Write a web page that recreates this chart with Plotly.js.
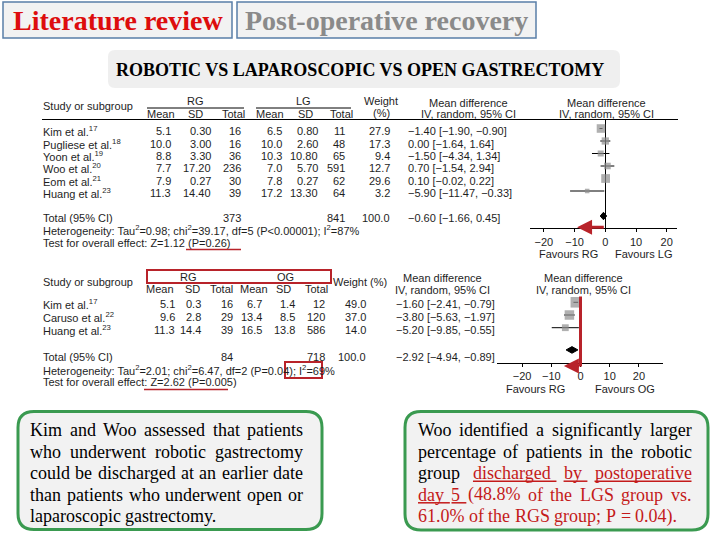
<!DOCTYPE html>
<html><head><meta charset="utf-8">
<script src="https://cdn.plot.ly/plotly-3.0.1.min.js"></script>
<style>html,body{margin:0;padding:0;background:#fff}#chart{width:720px;height:540px}</style>
</head><body><div id="chart"></div>
<script>
// ================= DATA =================
// Forest plot 1: RG vs LG (length of stay)
const studies1 = ['Kim et al.', 'Pugliese et al.', 'Yoon et al.', 'Woo et al.', 'Eom et al.', 'Huang et al.'];
const refs1    = ['17', '18', '19', '20', '21', '23'];
const rgMean1  = [5.1, 10.0, 8.8, 7.7, 7.9, 11.3];
const rgSD1    = [0.30, 3.00, 3.30, 17.20, 0.27, 14.40];
const rgN1     = [16, 16, 36, 236, 30, 39];
const lgMean1  = [6.5, 10.0, 10.3, 7.0, 7.8, 17.2];
const lgSD1    = [0.80, 2.60, 10.80, 5.70, 0.27, 13.30];
const lgN1     = [11, 48, 65, 591, 62, 64];
const weight1  = [27.9, 17.3, 9.4, 12.7, 29.6, 3.2];
const md1      = [-1.40, 0.00, -1.50, 0.70, 0.10, -5.90];
const lo1      = [-1.90, -1.64, -4.34, -1.54, -0.02, -11.47];
const hi1      = [-0.90, 1.64, 1.34, 2.94, 0.22, -0.33];
const totalN1  = [373, 841];
const totalW1  = 100.0;
const totalCI1 = [-0.60, -1.66, 0.45];
const het1  = 'Heterogeneity: Tau<sup>2</sup>=0.98; chi<sup>2</sup>=39.17, df=5 (P&lt;0.00001); I<sup>2</sup>=87%';
const test1 = 'Test for overall effect: Z=1.12 (P=0.26)';
const groups1 = ['RG', 'LG'];
const favours1 = ['Favours RG', 'Favours LG'];

// Forest plot 2: RG vs OG
const studies2 = ['Kim et al.', 'Caruso et al.', 'Huang et al.'];
const refs2    = ['17', '22', '23'];
const rgMean2  = [5.1, 9.6, 11.3];
const rgSD2    = [0.3, 2.8, 14.4];
const rgN2     = [16, 29, 39];
const ogMean2  = [6.7, 13.4, 16.5];
const ogSD2    = [1.4, 8.5, 13.8];
const ogN2     = [12, 120, 586];
const weight2  = [49.0, 37.0, 14.0];
const md2      = [-1.60, -3.80, -5.20];
const lo2      = [-2.41, -5.63, -9.85];
const hi2      = [-0.79, -1.97, -0.55];
const totalN2  = [84, 718];
const totalW2  = 100.0;
const totalCI2 = [-2.92, -4.94, -0.89];
const het2  = 'Heterogeneity: Tau<sup>2</sup>=2.01; chi<sup>2</sup>=6.47, df=2 (P=0.04); I<sup>2</sup>=69%';
const test2 = 'Test for overall effect: Z=2.62 (P=0.005)';
const groups2 = ['RG', 'OG'];
const favours2 = ['Favours RG', 'Favours OG'];

const tickVals = [-20, -10, 0, 10, 20];
const subHeads = ['Mean', 'SD', 'Total'];

// Texts
const tabTitles = ['Literature review', 'Post-operative recovery'];
const subtitle = 'ROBOTIC VS LAPAROSCOPIC VS OPEN GASTRECTOMY';
const leftLines = [
  [['Kim and Woo assessed that patients', 'k']],
  [['who underwent robotic gastrectomy', 'k']],
  [['could be discharged at an earlier date', 'k']],
  [['than patients who underwent open or', 'k']],
  [['laparoscopic gastrectomy.', 'k']]
];
const rightLines = [
  [['Woo identified a significantly larger', 'k']],
  [['percentage of patients in the robotic', 'k']],
  [['group', 'k'], ['discharged by postoperative', 'ru']],
  [['day 5', 'ru'], ['(48.8% of the LGS group vs.', 'r']],
  [['61.0% of the RGS group; P = 0.04).', 'r']]
];

// ================= STYLE / LAYOUT HELPERS =================
const SANS = 'Liberation Sans, Arial, Helvetica, sans-serif';
const SERIF = 'Liberation Serif, Times New Roman, serif';
const INK = '#1e1e1e';
const RED = '#b8232a';
const TXTRED = '#c41a1a';
const W = 720, H = 540;
const px = x => x / W, py = y => 1 - y / H;

const annotations = [];
const shapes = [];

function note(x, y, text, o) {
  o = o || {};
  annotations.push({
    xref: 'paper', yref: 'paper', x: px(x), y: py(y), text: text, showarrow: false,
    xanchor: o.xa || 'left', yanchor: o.ya || 'middle', borderpad: 0, borderwidth: 0,
    font: {family: o.family || SANS, size: o.size || 11, color: o.color || INK}
  });
}
function line(x0, y0, x1, y1, color, width) {
  shapes.push({type: 'line', xref: 'paper', yref: 'paper', x0: px(x0), y0: py(y0), x1: px(x1), y1: py(y1),
    line: {color: color, width: width}});
}
function rect(x0, y0, x1, y1, lc, lw, fill) {
  shapes.push({type: 'rect', xref: 'paper', yref: 'paper', x0: px(x0), y0: py(y0), x1: px(x1), y1: py(y1),
    line: {color: lc, width: lw}, fillcolor: fill || 'rgba(0,0,0,0)', layer: 'below'});
}
function rrect(x0, y0, x1, y1, r, lc, lw, fill) {
  const P = (x, y) => px(x) + ',' + py(y);
  const d = 'M' + P(x0 + r, y0) + ' L' + P(x1 - r, y0) + ' Q' + P(x1, y0) + ' ' + P(x1, y0 + r) +
    ' L' + P(x1, y1 - r) + ' Q' + P(x1, y1) + ' ' + P(x1 - r, y1) +
    ' L' + P(x0 + r, y1) + ' Q' + P(x0, y1) + ' ' + P(x0, y1 - r) +
    ' L' + P(x0, y0 + r) + ' Q' + P(x0, y0) + ' ' + P(x0 + r, y0) + ' Z';
  shapes.push({type: 'path', xref: 'paper', yref: 'paper', path: d,
    line: {color: lc, width: lw}, fillcolor: fill, layer: 'below'});
}
const fmt = (v, d) => v.toFixed(d).replace('-', '\u2212');
const ciText = (m, l, h) => fmt(m, 2) + ' [' + fmt(l, 2) + ', ' + fmt(h, 2) + ']';

// ================= HEADER =================
rect(3, 2, 232, 38, '#5a7fa8', 1.5, '#f2f2f2');
rect(237, 2, 536, 38, '#5a7fa8', 1.5, '#f2f2f2');
note(117.5, 21, '<b>' + tabTitles[0] + '</b>', {xa: 'center', family: SERIF, size: 28, color: '#dd0d0d'});
note(386.5, 21, '<b>' + tabTitles[1] + '</b>', {xa: 'center', family: SERIF, size: 28, color: '#8a8a8a'});
rrect(108, 50, 620, 88, 7, 'rgba(0,0,0,0)', 0, '#efefef');
note(359.5, 69.5, '<b>' + subtitle + '</b>', {xa: 'center', family: SERIF, size: 18, color: '#000'});

// ================= TABLE 1 =================
const T1 = {nameX: 43, rowY0: 131.5, rowH: 12.3, totalY: 218, hetY: 230.5, testY: 242.5,
  cols: [171, 210.5, 241, 281.5, 318, 345, 390], mdX: 408,
  subX: [161, 196, 233, 270, 305, 341], grpX: [195, 303], grpY: 101, subY: 114};
note(T1.nameX, 106.5, 'Study or subgroup');
groups1.forEach((g, k) => note(T1.grpX[k], T1.grpY, g, {xa: 'center'}));
line(147, 108, 244, 108, '#000', 1);
line(256, 108, 351, 108, '#000', 1);
[0, 1].forEach(k => subHeads.forEach((s, j) => note(T1.subX[k * 3 + j], T1.subY, s, {xa: 'center'})));
note(381, 101, 'Weight', {xa: 'center'});
note(381, 113, '(%)', {xa: 'center'});
note(468, 102.5, 'Mean difference', {xa: 'center'});
note(468, 114, 'IV, random, 95% CI', {xa: 'center'});
note(606, 102.5, 'Mean difference', {xa: 'center'});
note(606, 114, 'IV, random, 95% CI', {xa: 'center'});
line(42, 119.5, 678, 119.5, '#000', 1);
studies1.forEach((s, i) => {
  const y = T1.rowY0 + i * T1.rowH;
  note(T1.nameX, y, s + '<sup>' + refs1[i] + '</sup>');
  const vals = [fmt(rgMean1[i], 1), fmt(rgSD1[i], 2), String(rgN1[i]), fmt(lgMean1[i], 1), fmt(lgSD1[i], 2), String(lgN1[i]), fmt(weight1[i], 1)];
  vals.forEach((v, j) => note(T1.cols[j], y, v, {xa: 'right'}));
  note(T1.mdX, y, ciText(md1[i], lo1[i], hi1[i]));
});
note(T1.nameX, T1.totalY, 'Total (95% CI)');
note(T1.cols[2], T1.totalY, String(totalN1[0]), {xa: 'right'});
note(T1.cols[5], T1.totalY, String(totalN1[1]), {xa: 'right'});
note(T1.cols[6], T1.totalY, fmt(totalW1, 1), {xa: 'right'});
note(T1.mdX, T1.totalY, ciText(totalCI1[0], totalCI1[1], totalCI1[2]));
note(T1.nameX, T1.hetY, het1);
note(T1.nameX, T1.testY, test1);
line(186, 249.5, 241, 249.5, RED, 1.5);
note(568, 253.5, favours1[0], {xa: 'center'});
note(643, 253.5, favours1[1], {xa: 'center'});

// ================= TABLE 2 =================
const T2 = {nameX: 43, rowY0: 303.5, rowH: 13, totalY: 357, hetY: 369.5, testY: 381.5,
  cols: [175, 200.5, 232.5, 262, 294.5, 325, 366], mdX: 396,
  subX: [160, 192, 221, 254, 283, 316], grpX: [188, 285], grpY: 276.5, subY: 289};
note(T2.nameX, 282, 'Study or subgroup');
groups2.forEach((g, k) => note(T2.grpX[k], T2.grpY, g, {xa: 'center'}));
rect(147, 270, 331, 283, RED, 2);
[0, 1].forEach(k => subHeads.forEach((s, j) => note(T2.subX[k * 3 + j], T2.subY, s, {xa: 'center'})));
note(360, 282, 'Weight (%)', {xa: 'center'});
note(442, 278, 'Mean difference', {xa: 'center'});
note(442, 289.5, 'IV, random, 95% CI', {xa: 'center'});
note(583, 278, 'Mean difference', {xa: 'center'});
note(583, 289.5, 'IV, random, 95% CI', {xa: 'center'});
studies2.forEach((s, i) => {
  const y = T2.rowY0 + i * T2.rowH;
  note(T2.nameX, y, s + '<sup>' + refs2[i] + '</sup>');
  const vals = [fmt(rgMean2[i], 1), fmt(rgSD2[i], 1), String(rgN2[i]), fmt(ogMean2[i], 1), fmt(ogSD2[i], 1), String(ogN2[i]), fmt(weight2[i], 1)];
  vals.forEach((v, j) => note(T2.cols[j], y, v, {xa: 'right'}));
  note(T2.mdX, y, ciText(md2[i], lo2[i], hi2[i]));
});
note(T2.nameX, T2.totalY, 'Total (95% CI)');
note(T2.cols[2], T2.totalY, String(totalN2[0]), {xa: 'right'});
note(T2.cols[5], T2.totalY, String(totalN2[1]), {xa: 'right'});
note(T2.cols[6], T2.totalY, fmt(totalW2, 1), {xa: 'right'});
note(T2.mdX, T2.totalY, ciText(totalCI2[0], totalCI2[1], totalCI2[2]));
note(T2.nameX, T2.hetY, het2);
note(T2.nameX, T2.testY, test2);
rect(285, 362, 322, 378, RED, 2);
line(144, 389.5, 228, 389.5, RED, 1.5);
note(535, 388.5, favours2[0], {xa: 'center'});
note(625, 388.5, favours2[1], {xa: 'center'});

// ================= FOREST GRAPHS =================
const G1 = {x0: 530, x1: 677, zero: 605.3, ppu: 3.07, top: 119.5, bottom: 228.3, row0: 128.5, rowH: 12.5, totalRow: 7, dh: 0.3};
const G2 = {x0: 496.7, x1: 663.3, zero: 580.5, ppu: 2.92, top: 293, bottom: 362.7, row0: 302.3, rowH: 12.7, totalRow: 3.75, dh: 0.26};

function xax(G, anchor, zl) {
  return {domain: [px(G.x0), px(G.x1)], range: [(G.x0 - G.zero) / G.ppu, (G.x1 - G.zero) / G.ppu],
    anchor: anchor, showline: true, linecolor: '#000', linewidth: 1, ticks: 'outside', ticklen: 3,
    tickcolor: '#000', tickwidth: 1, tickmode: 'array', tickvals: tickVals, showgrid: false,
    zeroline: zl, zerolinecolor: '#000', zerolinewidth: 1.2,
    tickfont: {family: SANS, size: 11, color: INK}, fixedrange: true};
}
function yax(G, anchor) {
  return {domain: [py(G.bottom), py(G.top)], range: [(G.bottom - G.row0) / G.rowH, (G.top - G.row0) / G.rowH],
    anchor: anchor, visible: false, showgrid: false, zeroline: false, fixedrange: true};
}
function studyTrace(md, lo, hi, w, xa, ya) {
  return {type: 'scatter', mode: 'markers', x: md, y: md.map((_, i) => i), xaxis: xa, yaxis: ya,
    marker: {symbol: 'square', size: w.map(v => 2.5 + 1.15 * Math.sqrt(v)), color: '#8f8f8f', line: {width: 0}},
    error_x: {type: 'data', symmetric: false, array: hi.map((h, i) => h - md[i]), arrayminus: md.map((m, i) => m - lo[i]),
      color: '#000', thickness: 1, width: 0},
    hoverinfo: 'skip', cliponaxis: false};
}
function diamondTrace(ci, G, xa, ya) {
  const r = G.totalRow, h = G.dh;
  return {type: 'scatter', mode: 'lines', x: [ci[1], ci[0], ci[2], ci[0], ci[1]], y: [r, r - h, r, r + h, r],
    xaxis: xa, yaxis: ya, fill: 'toself', fillcolor: '#000', line: {color: '#000', width: 1}, hoverinfo: 'skip'};
}
const traces = [
  studyTrace(md1, lo1, hi1, weight1, 'x', 'y'),
  diamondTrace(totalCI1, G1, 'x', 'y'),
  studyTrace(md2, lo2, hi2, weight2, 'x2', 'y2'),
  diamondTrace(totalCI2, G2, 'x2', 'y2')
];

// red highlights on graphs
annotations.push({xref: 'x', yref: 'paper', x: -9.2, y: py(227.3), axref: 'x', ax: 0, ayref: 'pixel', ay: 0,
  showarrow: true, arrowhead: 2, arrowsize: 1, arrowwidth: 3, arrowcolor: RED, text: '', standoff: 0});
shapes.push({type: 'line', xref: 'x2', yref: 'paper', x0: 0, x1: 0, y0: py(296.5), y1: py(366.5), line: {color: RED, width: 3}});
annotations.push({xref: 'x2', yref: 'paper', x: -5.7, y: py(366), axref: 'x2', ax: 0, ayref: 'pixel', ay: 0,
  showarrow: true, arrowhead: 2, arrowsize: 1, arrowwidth: 3, arrowcolor: RED, text: '', standoff: 0});

// ================= BOTTOM BOXES (justified text) =================
rrect(18, 411.5, 322, 529.5, 16, '#3a9a50', 3, '#f2f2f2');
rrect(405, 411.5, 708, 530, 16, '#3a9a50', 3, '#f2f2f2');
const ctx = document.createElement('canvas').getContext('2d');
const FS = 18;
ctx.font = FS + 'px "Liberation Serif"';
const mw = t => ctx.measureText(t).width;
function para(lines, x0, x1, y0, lh) {
  const sp = mw(' ');
  lines.forEach((segs, li) => {
    const words = [];
    segs.forEach(([t, s]) => t.split(' ').filter(Boolean).forEach(w => words.push({w: w, s: s})));
    const ws = words.map(o => mw(o.w));
    const sum = ws.reduce((a, b) => a + b, 0);
    const last = li === lines.length - 1;
    const gap = (last || words.length < 2) ? sp : (x1 - x0 - sum) / (words.length - 1);
    const y = y0 + li * lh;
    let x = x0;
    words.forEach((o, i) => {
      const col = o.s === 'k' ? '#000' : TXTRED;
      note(x, y, o.w, {family: SERIF, size: FS, color: col});
      if (o.s === 'ru') {
        const ext = i < words.length - 1 ? Math.min(gap, sp * 1.3) : 0;
        line(x, y + 8, x + ws[i] + ext, y + 8, TXTRED, 1.5);
      }
      x += ws[i] + gap;
    });
  });
}
para(leftLines, 30, 303, 430, 21.6);
para(rightLines, 418, 691.5, 430, 21.6);

// ================= RENDER =================
const layout = {
  width: W, height: H, margin: {l: 0, r: 0, t: 0, b: 0}, showlegend: false,
  paper_bgcolor: '#ffffff', plot_bgcolor: 'rgba(0,0,0,0)',
  xaxis: xax(G1, 'y', true), yaxis: yax(G1, 'x'),
  xaxis2: xax(G2, 'y2', false), yaxis2: yax(G2, 'x2'),
  annotations: annotations, shapes: shapes
};
Plotly.newPlot('chart', traces, layout, {displayModeBar: false, staticPlot: true});
</script>
</body></html>
